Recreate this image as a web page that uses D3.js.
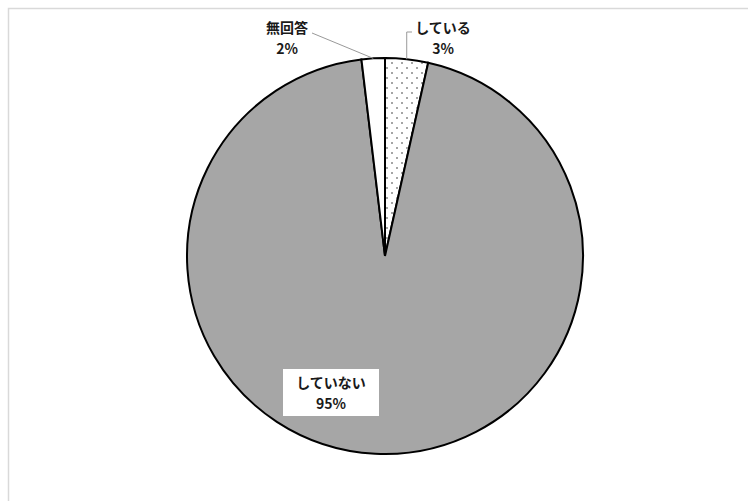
<!DOCTYPE html>
<html>
<head>
<meta charset="utf-8">
<script src="https://d3js.org/d3.v7.min.js"></script>
<style>
  body { margin: 0px; padding: 0px; background: #fff; }
</style>
</head>
<body>
<div id="svg_cont"></div>
<script>

// data (clockwise from 12 o'clock)
var categories = ['している', 'していない', '無回答'];
var values = [3.5, 94.6, 1.9];
var pct_labels = ['3%', '95%', '2%'];
var fills = ['url(#dots)', '#a6a6a6', '#ffffff'];

var w = 748, h = 501;
var cx = 385, cy = 256, r = 198;

var svg_main = d3.select('div#svg_cont')
  .append('svg')
  .attr('width', w)
  .attr('height', h);

// dotted pattern for the small slice
var pat = svg_main.append('defs')
  .append('pattern')
    .attr('id', 'dots')
    .attr('patternUnits', 'userSpaceOnUse')
    .attr('width', 10)
    .attr('height', 10);
pat.append('rect').attr('width', 10).attr('height', 10).attr('fill', '#fff');
pat.append('circle').attr('cx', 2).attr('cy', 2).attr('r', 0.8).attr('fill', '#333');
pat.append('circle').attr('cx', 7).attr('cy', 7).attr('r', 0.8).attr('fill', '#333');

// outer chart frame
svg_main.append('rect')
  .attr('x', 8.5).attr('y', 8.5)
  .attr('width', w).attr('height', h)
  .attr('fill', 'none')
  .attr('stroke', '#d9d9d9')
  .attr('stroke-width', 1.5);

var pie = d3.pie().sort(null).value(d => d);
var arcs = pie(values);
var arc = d3.arc().innerRadius(0).outerRadius(r);

var g = svg_main.append('g').attr('transform', 'translate(' + cx + ',' + cy + ')');

g.selectAll('path')
  .data(arcs)
  .enter().append('path')
    .attr('d', arc)
    .attr('fill', (d, i) => fills[i])
    .attr('stroke', '#000')
    .attr('stroke-width', 2)
    .attr('stroke-linejoin', 'miter');

var font = '"Noto Sans CJK JP", "Liberation Sans", sans-serif';

function label(x, y, lines) {
  var t = svg_main.append('text')
    .attr('text-anchor', 'middle')
    .attr('font-family', font)
    .attr('font-size', 14)
    .attr('font-weight', 'bold')
    .attr('fill', '#1a1a1a');
  lines.forEach(function(s, k) {
    t.append('tspan').attr('x', x).attr('y', y + k * 21).text(s);
  });
}

// point on the rim at the middle of slice i
function rim(i, k) {
  var a = (arcs[i].startAngle + arcs[i].endAngle) / 2;
  return [cx + k * r * Math.sin(a), cy - k * r * Math.cos(a)];
}

// している
var p0 = rim(0, 1.0);
svg_main.append('path')
  .attr('d', 'M' + p0[0] + ',' + p0[1] + ' L' + p0[0] + ',32 L412,32')
  .attr('fill', 'none').attr('stroke', '#999').attr('stroke-width', 1);
label(443, 33, [categories[0], pct_labels[0]]);

// 無回答
var p2 = rim(2, 1.0);
svg_main.append('path')
  .attr('d', 'M' + p2[0] + ',' + p2[1] + ' L312,33')
  .attr('fill', 'none').attr('stroke', '#999').attr('stroke-width', 1);
label(287, 33, [categories[2], pct_labels[2]]);

// していない label with white box
svg_main.append('rect')
  .attr('x', 283).attr('y', 369)
  .attr('width', 96).attr('height', 47)
  .attr('fill', '#fff');
label(331, 388, [categories[1], pct_labels[1]]);

</script>
</body>
</html>
